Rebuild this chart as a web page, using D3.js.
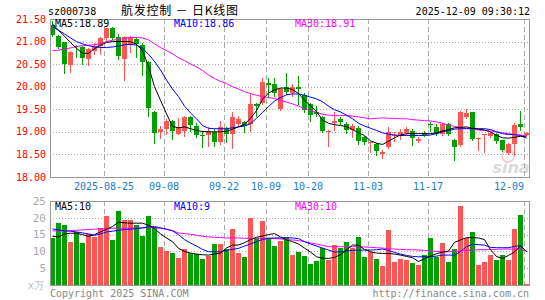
<!DOCTYPE html>
<html>
<head>
<meta charset="utf-8">
<script src="https://cdn.jsdelivr.net/npm/d3@7"></script>
<style>
    body { margin: 0; background: #fff; }
    text { font-family: "DejaVu Sans Mono", monospace; font-size: 10px; }
</style>
</head>
<body>
<div id="kline-container"></div>
<script>

let dates = ['2025-08-12','2025-08-13','2025-08-14','2025-08-15','2025-08-18','2025-08-19','2025-08-20','2025-08-21','2025-08-22',
    '2025-08-25','2025-08-26','2025-08-27','2025-08-28','2025-08-29','2025-09-01','2025-09-02','2025-09-03','2025-09-04','2025-09-05',
    '2025-09-08','2025-09-09','2025-09-10','2025-09-11','2025-09-12','2025-09-15','2025-09-16','2025-09-17','2025-09-18','2025-09-19',
    '2025-09-22','2025-09-23','2025-09-24','2025-09-25','2025-09-26','2025-09-29','2025-09-30','2025-10-09','2025-10-10','2025-10-13',
    '2025-10-14','2025-10-15','2025-10-16','2025-10-17','2025-10-20','2025-10-21','2025-10-22','2025-10-23','2025-10-24','2025-10-27',
    '2025-10-28','2025-10-29','2025-10-30','2025-10-31','2025-11-03','2025-11-04','2025-11-05','2025-11-06','2025-11-07','2025-11-10',
    '2025-11-11','2025-11-12','2025-11-13','2025-11-14','2025-11-17','2025-11-18','2025-11-19','2025-11-20','2025-11-21','2025-11-24',
    '2025-11-25','2025-11-26','2025-11-27','2025-11-28','2025-12-01','2025-12-02','2025-12-03','2025-12-04','2025-12-05','2025-12-08',
    '2025-12-09']

let open = [21.37,21.13,20.98,20.48,20.90,20.88,20.61,20.80,20.91,21.09,21.30,21.10,20.61,20.93,21.05,20.93,20.54,19.45,19.00,19.07,
    19.23,18.96,19.02,19.32,19.13,18.92,18.93,18.99,18.77,19.06,18.96,19.17,19.21,19.17,19.62,19.65,20.08,20.06,19.50,19.99,
    19.86,20.00,19.82,19.62,19.43,19.33,19.01,19.20,19.29,19.18,19.05,19.08,18.88,18.76,18.74,18.50,18.66,18.90,18.91,18.97,
    19.01,18.80,18.98,19.18,19.11,18.95,19.18,18.81,18.70,19.33,19.44,18.86,18.93,18.91,18.96,18.81,18.54,18.74,19.18,18.94]
let high = [21.45,21.15,21.00,20.80,20.93,20.90,20.85,20.96,21.10,21.31,21.32,21.16,21.12,21.12,21.08,20.96,20.56,19.47,19.12,19.29,
    19.27,19.30,19.35,19.35,19.20,19.02,19.10,19.06,19.24,19.10,19.43,19.35,19.24,19.83,19.65,20.20,20.20,20.20,19.98,20.31,
    20.05,20.24,19.87,19.65,19.57,19.35,19.05,19.45,19.32,19.22,19.17,19.12,18.91,18.78,18.75,18.60,19.10,18.99,19.07,19.10,
    19.06,18.89,19.02,19.22,19.18,19.20,19.20,18.85,19.46,19.50,19.45,18.88,18.96,19.00,18.98,18.83,18.75,19.20,19.46,19.00]
let low = [21.12,20.85,20.30,20.32,20.65,20.50,20.47,20.72,20.72,21.02,21.05,20.61,20.14,20.76,20.65,20.25,19.35,18.75,18.87,18.96,
    18.85,18.95,18.91,19.02,18.89,18.67,18.69,18.69,18.74,18.77,18.64,19.13,18.99,19.02,19.35,19.61,19.77,19.79,19.48,19.83,
    19.80,19.61,19.43,19.23,19.35,18.99,18.69,19.05,19.18,18.98,18.88,18.73,18.73,18.55,18.48,18.41,18.64,18.80,18.85,18.95,
    18.70,18.77,18.90,19.03,18.93,18.93,18.93,18.38,18.68,19.30,18.82,18.60,18.56,18.89,18.76,18.58,18.52,18.48,19.05,18.93]
let close = [21.15,20.87,20.50,20.78,20.87,20.63,20.83,20.91,21.09,21.30,21.09,20.69,21.10,21.10,20.94,20.54,19.53,18.97,19.07,19.25,
    19.01,19.10,19.32,19.15,18.93,18.91,19.02,18.78,19.10,18.96,19.32,19.28,19.13,19.62,19.57,20.11,20.03,19.86,19.96,19.88,
    19.99,19.96,19.49,19.38,19.39,19.01,19.03,19.24,19.22,19.04,19.14,18.79,18.77,18.77,18.58,18.56,18.99,18.92,18.99,19.06,
    18.86,18.85,18.93,19.17,18.96,19.18,18.95,18.67,19.44,19.42,18.84,18.87,18.95,18.98,18.79,18.60,18.74,19.15,19.11,18.98]

let ma5 = [21.39,21.25,21.12,20.98,20.85,20.74,20.74,20.84,20.92,20.98,21.00,21.00,21.00,21.00,20.94,20.80,20.45,20.00,19.70,19.40,
    19.12,19.09,19.11,19.07,19.03,19.01,19.00,19.00,19.00,19.01,19.06,19.11,19.17,19.30,19.47,19.72,19.86,19.93,19.97,19.97,
    19.94,19.85,19.70,19.58,19.45,19.26,19.19,19.16,19.14,19.12,19.05,18.98,18.92,18.80,18.75,18.72,18.79,18.87,18.93,18.96,
    18.96,18.96,18.96,18.96,18.98,19.02,19.05,19.09,19.10,19.11,19.08,19.06,19.04,19.00,18.92,18.87,18.86,18.88,18.90,18.89]
let ma10 = [21.33,21.25,21.17,21.08,21.00,20.95,20.91,20.88,20.87,20.87,20.88,20.90,20.93,20.94,20.92,20.85,20.72,20.56,20.37,20.15,
    19.95,19.78,19.57,19.42,19.29,19.14,19.08,19.07,19.07,19.07,19.09,19.11,19.13,19.18,19.30,19.43,19.56,19.68,19.76,19.82,
    19.84,19.84,19.81,19.77,19.73,19.67,19.57,19.49,19.44,19.37,19.29,19.19,19.13,19.08,19.03,18.98,18.95,18.93,18.92,18.92,
    18.92,18.92,18.92,18.93,18.96,19.00,19.03,19.06,19.07,19.07,19.07,19.07,19.07,19.05,19.00,18.96,18.94,18.94,18.92,18.86]
let ma30 = [20.80,20.81,20.83,20.86,20.89,20.91,20.92,20.93,20.96,21.00,21.03,21.05,21.07,21.09,21.09,21.08,21.04,20.95,20.87,20.80,
    20.73,20.64,20.58,20.50,20.44,20.36,20.26,20.18,20.12,20.07,20.00,19.95,19.89,19.85,19.81,19.78,19.76,19.74,19.70,19.66,
    19.62,19.57,19.51,19.48,19.43,19.39,19.37,19.36,19.36,19.36,19.35,19.33,19.31,19.29,19.30,19.31,19.30,19.30,19.29,19.29,
    19.27,19.26,19.25,19.24,19.22,19.19,19.15,19.12,19.10,19.08,19.06,19.04,19.03,19.02,19.00,18.98,18.96,18.94,18.93,18.91]

// volume in 万手
let volume = [13.9,18.5,17.9,12.9,15.7,12.4,15.1,14.4,17.1,20.6,13.4,22.1,19.3,19.3,17.9,14.7,20.6,17.4,11.4,10.1,
    9.4,8.1,10.7,9.4,9.1,7.7,8.6,12.2,12.2,10.7,16.7,9.6,8.4,20.0,14.1,18.9,14.1,11.7,13.1,14.4,
    8.9,9.9,8.7,6.3,7.1,10.9,7.4,11.9,10.9,12.7,11.1,14.4,8.4,9.9,7.7,5.7,16.4,6.9,7.7,7.4,
    6.5,6.0,8.9,14.1,8.4,12.4,6.8,10.7,23.5,14.1,15.9,6.0,6.9,8.9,7.4,8.9,7.4,16.7,20.8,0.3]
let volMa5 = [14.5,14.3,15.2,15.4,15.4,15.0,14.5,15.0,15.8,16.6,17.4,18.7,18.5,18.4,18.4,18.4,17.8,16.8,15.2,14.0,
    12.9,10.9,10.0,9.5,9.2,9.0,8.9,9.2,9.5,11.0,11.9,11.9,12.6,13.5,14.2,14.6,15.0,15.3,14.3,13.4,
    12.9,12.2,11.0,9.8,8.4,8.0,7.9,8.2,9.0,10.4,11.9,11.8,10.6,9.9,9.5,9.4,9.4,9.2,8.9,8.5,
    8.1,7.0,7.8,8.6,9.3,9.8,10.1,12.7,13.4,14.1,14.1,14.0,13.5,10.5,8.5,7.9,8.8,9.8,11.7,10.0]
let volMa10 = [16.7,16.4,16.1,16.0,15.8,15.5,15.2,14.8,15.2,15.8,16.0,16.3,16.5,16.6,16.8,17.0,17.3,17.4,17.0,16.6,
    16.1,15.0,13.5,12.5,11.6,10.6,9.9,9.9,9.9,10.3,10.6,10.9,11.6,12.2,12.9,13.5,13.9,14.0,14.0,14.1,
    14.0,13.8,12.9,12.2,11.6,11.0,10.4,9.8,9.9,10.1,10.3,10.4,10.4,10.4,10.5,10.7,10.3,9.7,9.2,8.8,
    8.5,8.4,8.4,8.4,8.6,8.9,8.9,8.9,10.0,11.4,12.1,12.0,11.9,11.2,11.1,11.1,11.1,11.5,11.7,9.9]
let volMa30 = [16.1,16.1,16.1,16.2,16.3,16.4,16.5,16.6,16.7,16.8,16.9,16.9,16.9,16.9,17.0,17.0,17.1,17.0,16.9,16.6,
    16.2,15.5,15.3,15.1,14.8,14.5,14.3,14.2,14.1,14.0,14.0,14.0,13.9,13.9,13.9,13.9,13.9,13.8,13.7,13.5,
    13.4,13.2,12.9,12.5,12.2,11.8,11.4,11.4,11.4,11.4,11.4,11.4,11.3,11.2,11.1,11.0,10.8,10.7,10.6,10.5,
    10.5,10.4,10.3,10.2,10.0,9.9,9.9,10.0,10.1,10.3,10.4,10.5,10.5,10.6,10.6,10.7,10.7,10.7,10.6,10.1]

let priceTicks = [21.5, 21.0, 20.5, 20.0, 19.5, 19.0, 18.5, 18.0]
let volumeTicks = [25, 20, 15, 10, 5]
let dateTicks = ['2025-08-25','2025-09-08','2025-09-22','2025-10-09','2025-10-20','2025-11-03','2025-11-17','2025-12-09']
let dateTickLabels = ['2025-08-25','09-08','09-22','10-09','10-20','11-03','11-17','12-09']

let stockCode = 'sz000738'
let stockTitle = '航发控制 － 日K线图'
let quoteTime = '2025-12-09 09:30:12'
let maLabels = ['MA5:18.89', 'MA10:18.86', 'MA30:18.91']
let volMaLabels = ['MA5:10', 'MA10:9', 'MA30:10']

function draw_kline(){

    let width = 545
    let height = 300
    let plotLeft = 50, plotRight = 529
    let priceTop = 19, priceBottom = 177
    let volTop = 201, volBottom = 285

    let upColor = '#ff5555'
    let downColor = '#00a000'
    let gridColor = '#aaaaaa'
    let frameColor = '#999999'
    let maColors = ['#000000', '#0000ff', '#ff00ff']

    let data = dates.map(function(d, i){
        return {date: d, open: open[i], high: high[i], low: low[i], close: close[i], volume: volume[i]}
    })

    let svg = d3.select('#kline-container')
        .append('svg')
            .attr('width', width)
            .attr('height', height)
            .attr('shape-rendering', 'crispEdges')

    let x = d3.scaleBand()
        .domain(dates)
        .range([plotLeft, plotRight])
        .paddingInner(1/6)
        .paddingOuter(0)

    let y = d3.scaleLinear()
        .domain([18, 21.5])
        .range([priceBottom, priceTop])

    let yVol = d3.scaleLinear()
        .domain([0, 25])
        .range([volBottom, volTop])

    function px(v){ return Math.round(v) + 0.5 }

    //HEADER
    svg.append('text').attr('x', 48).attr('y', 15).text(stockCode)
    svg.append('text')
        .attr('x', 121).attr('y', 15)
        .attr('textLength', 117)
        .attr('lengthAdjust', 'spacing')
        .style('font-family', '"Noto Sans CJK SC", sans-serif')
        .style('font-size', '12px')
        .text(stockTitle)
    svg.append('text').attr('x', 530).attr('y', 15).attr('text-anchor', 'end').text(quoteTime)

    //GRID
    function grid(g, ticks, yScale, top, bottom){
        g.selectAll('.hgrid')
            .data(ticks)
            .enter()
            .append('line')
                .attr('x1', plotLeft)
                .attr('x2', plotRight)
                .attr('y1', function(t){ return px(yScale(t)) })
                .attr('y2', function(t){ return px(yScale(t)) })
                .attr('stroke', gridColor)
                .attr('stroke-dasharray', '1,2')
        g.selectAll('.vgrid')
            .data(dateTicks)
            .enter()
            .append('line')
                .attr('x1', function(d){ return px(x(d)) })
                .attr('x2', function(d){ return px(x(d)) })
                .attr('y1', top)
                .attr('y2', bottom)
                .attr('stroke', gridColor)
                .attr('stroke-dasharray', '5,3')
    }

    grid(svg.append('g'), priceTicks.slice(1, -1), y, priceTop, priceBottom)
    grid(svg.append('g'), volumeTicks.slice(1), yVol, volTop, volBottom)

    //WATERMARK
    let mark = svg.append('g').attr('opacity', 0.35).attr('shape-rendering', 'auto')
    mark.append('circle').attr('cx', 508).attr('cy', 156).attr('r', 6)
        .attr('fill', 'none').attr('stroke', '#e08080').attr('stroke-width', 2)
    mark.append('text').attr('x', 511).attr('y', 173).attr('text-anchor', 'middle')
        .style('font-family', 'Verdana, "DejaVu Sans", sans-serif')
        .style('font-size', '16px').style('font-weight', 'bold').style('font-style', 'italic')
        .attr('fill', '#999').text('sina')

    //CANDLES
    let price = svg.append('g')
    price.selectAll('.wick')
        .data(data)
        .enter()
        .append('line')
            .attr('x1', function(d){ return Math.round(x(d.date)) + 2.5 })
            .attr('x2', function(d){ return Math.round(x(d.date)) + 2.5 })
            .attr('y1', function(d){ return Math.round(y(d.high)) })
            .attr('y2', function(d){ return Math.round(y(d.low)) + 1 })
            .attr('stroke', function(d){ return d.close >= d.open ? upColor : downColor })

    price.selectAll('.body')
        .data(data)
        .enter()
        .append('rect')
            .attr('x', function(d){ return Math.round(x(d.date)) })
            .attr('width', x.bandwidth())
            .attr('y', function(d){ return Math.round(y(Math.max(d.open, d.close))) })
            .attr('height', function(d){
                return Math.max(1, Math.round(y(Math.min(d.open, d.close))) - Math.round(y(Math.max(d.open, d.close))))
            })
            .attr('fill', function(d){ return d.close >= d.open ? upColor : downColor })

    //VOLUME BARS
    svg.append('g')
        .selectAll('rect')
        .data(data)
        .enter()
        .append('rect')
            .attr('x', function(d){ return Math.round(x(d.date)) })
            .attr('width', x.bandwidth())
            .attr('y', function(d){ return Math.round(yVol(d.volume)) })
            .attr('height', function(d){ return Math.max(1, volBottom - Math.round(yVol(d.volume))) })
            .attr('fill', function(d){ return d.close >= d.open ? upColor : downColor })

    //MOVING AVERAGES
    function maLine(values, yScale, color){
        let line = d3.line()
            .x(function(v, i){ return x(dates[i]) + 2.5 })
            .y(function(v){ return yScale(v) })
        svg.append('path')
            .datum(values)
            .attr('d', line)
            .attr('fill', 'none')
            .attr('stroke', color)
            .attr('stroke-width', 1)
            .attr('shape-rendering', 'auto')
    }

    maLine(ma30, y, maColors[2])
    maLine(ma10, y, maColors[1])
    maLine(ma5, y, maColors[0])
    maLine(volMa30, yVol, maColors[2])
    maLine(volMa10, yVol, maColors[1])
    maLine(volMa5, yVol, maColors[0])

    //FRAMES
    svg.append('rect')
        .attr('x', plotLeft + 0.5).attr('y', priceTop + 0.5)
        .attr('width', plotRight - plotLeft).attr('height', priceBottom - priceTop)
        .attr('fill', 'none').attr('stroke', frameColor)
    svg.append('rect')
        .attr('x', plotLeft + 0.5).attr('y', volTop + 0.5)
        .attr('width', plotRight - plotLeft).attr('height', volBottom - volTop)
        .attr('fill', 'none').attr('stroke', frameColor)

    //MA LABELS
    let labelX = [55, 174, 295]
    maLabels.forEach(function(t, i){
        svg.append('text').attr('x', labelX[i]).attr('y', 27).attr('fill', maColors[i]).text(t)
    })
    volMaLabels.forEach(function(t, i){
        svg.append('text').attr('x', labelX[i]).attr('y', 210).attr('fill', maColors[i]).text(t)
    })

    //Y-AXIS LABELS
    svg.append('g')
        .selectAll('text')
        .data(priceTicks)
        .enter()
        .append('text')
            .attr('x', 46)
            .attr('y', function(t){ return y(t) })
            .attr('dy', '0.35em')
            .attr('text-anchor', 'end')
            .attr('fill', '#ff0000')
            .text(d3.format('.2f'))

    svg.append('g')
        .selectAll('text')
        .data(volumeTicks)
        .enter()
        .append('text')
            .attr('x', 46)
            .attr('y', function(t){ return yVol(t) })
            .attr('dy', '0.35em')
            .attr('text-anchor', 'end')
            .attr('fill', '#aaaaaa')
            .style('font-size', '11px')
            .text(function(t){ return t })

    svg.append('text').attr('x', 44).attr('y', 289).attr('text-anchor', 'end')
        .attr('fill', '#bbbbbb').text('x万')

    //X-AXIS LABELS
    svg.append('g')
        .selectAll('text')
        .data(dateTicks)
        .enter()
        .append('text')
            .attr('x', function(d){ return x(d) })
            .attr('y', 190)
            .attr('text-anchor', function(d, i){ return i == dateTicks.length - 1 ? 'end' : 'middle' })
            .attr('fill', '#1a7ccf')
            .text(function(d, i){ return dateTickLabels[i] })

    //FOOTER
    svg.append('text').attr('x', 50).attr('y', 297).attr('fill', '#888888').text('Copyright 2025 SINA.COM')
    svg.append('text').attr('x', 529).attr('y', 297).attr('text-anchor', 'end').attr('fill', '#888888')
        .text('http://finance.sina.com.cn')
}

draw_kline()

</script>
</body>
</html>
